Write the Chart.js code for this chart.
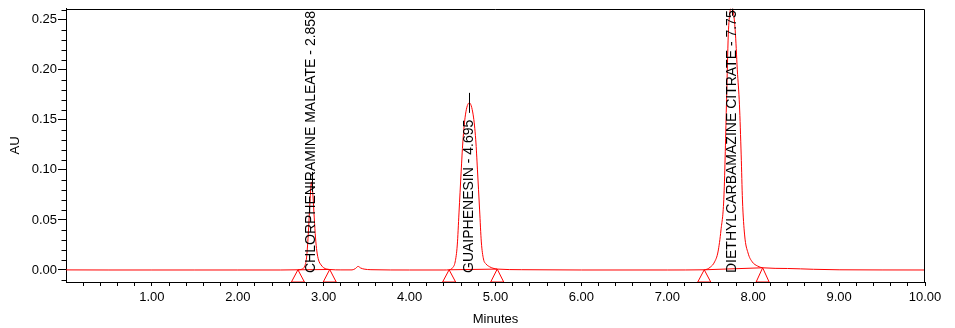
<!DOCTYPE html>
<html>
<head>
<meta charset="utf-8">
<script src="https://cdn.jsdelivr.net/npm/chart.js@4.4.0/dist/chart.umd.min.js"></script>
<style>
  html, body { margin: 0; padding: 0; background: #fff; }
  #wrap { width: 955px; height: 328px; }
</style>
</head>
<body>
<div id="wrap"><canvas id="chromChart" width="955" height="328"></canvas></div>
<script>
// detector trace: retention time (min) and absorbance (AU)
const traceTime = [
  0.00, 0.50, 1.00, 1.50, 2.00, 2.50, 2.70, 2.75, 2.78, 2.80,
  2.82, 2.84, 2.858, 2.875, 2.89, 2.905, 2.92, 2.94, 2.97, 3.00,
  3.07, 3.20, 3.33, 3.37, 3.40, 3.43, 3.47, 3.55, 4.00, 4.40,
  4.46, 4.50, 4.53, 4.555, 4.575, 4.60, 4.62, 4.65, 4.695, 4.74,
  4.77, 4.79, 4.815, 4.835, 4.86, 4.89, 4.93, 4.97, 5.02, 5.30,
  6.00, 7.00, 7.43, 7.50, 7.55, 7.59, 7.625, 7.66, 7.69, 7.71,
  7.73, 7.75, 7.79, 7.815, 7.84, 7.86, 7.875, 7.90, 7.94, 7.99,
  8.05, 8.11, 8.40, 8.70, 9.00, 10.00
];
const traceAU = [
  0.0001, 0.0000, 0.0000, 0.0000, 0.0000, 0.0000, 0.0002, 0.0010, 0.004, 0.012,
  0.035, 0.068, 0.088, 0.074, 0.052, 0.032, 0.019, 0.010, 0.005, 0.0022,
  0.0005, 0.0001, 0.0001, 0.0015, 0.0036, 0.0020, 0.0009, 0.0003, 0.0000, 0.0000,
  0.0002, 0.0022, 0.008, 0.025, 0.057, 0.098, 0.128, 0.155, 0.167, 0.155,
  0.130, 0.100, 0.060, 0.028, 0.011, 0.006, 0.0033, 0.0018, 0.0009, 0.0003,
  0.0000, 0.0000, 0.0002, 0.0028, 0.008, 0.018, 0.040, 0.075, 0.170, 0.235,
  0.258, 0.264, 0.240, 0.200, 0.165, 0.115, 0.070, 0.035, 0.017, 0.008,
  0.004, 0.0022, 0.0015, 0.0007, 0.0002, 0.0000
];

// integrated peaks
const peakNames = ['CHLORPHENIRAMINE MALEATE', 'GUAIPHENESIN', 'DIETHYLCARBAMAZINE CITRATE'];
const peakTimes = [2.858, 4.695, 7.75];
const peakApex = [0.088, 0.167, 0.264];
const peakStart = [2.70, 4.46, 7.43];
const peakStartAU = [0.0002, 0.0002, 0.0002];
const peakEnd = [3.07, 5.02, 8.11];
const peakEndAU = [0.0005, 0.0009, 0.0022];

// axis labels
const xTicks = [1, 2, 3, 4, 5, 6, 7, 8, 9, 10];
const yTicks = [0, 0.05, 0.10, 0.15, 0.20, 0.25];

const RED = '#ff0000';
const FONT = "'Liberation Sans', Arial, sans-serif";

const traceData = traceTime.map((t, i) => ({ x: t, y: traceAU[i] }));

// drop lines between peak start and end markers
const baselineSets = peakStart.map((s, i) => ({
  data: [{ x: s, y: peakStartAU[i] }, { x: peakEnd[i], y: peakEndAU[i] }],
  borderColor: RED,
  borderWidth: 1,
  pointRadius: 0,
  tension: 0,
}));

// triangles, apex ticks, vertical peak names, frame and minor ticks
const chromDecor = {
  id: 'chromDecor',
  afterDatasetsDraw(chart) {
    const { ctx, chartArea: a, scales: { x, y } } = chart;
    ctx.save();
    ctx.beginPath();
    ctx.rect(a.left, a.top, a.right - a.left, a.bottom - a.top);
    ctx.clip();

    ctx.strokeStyle = RED;
    ctx.lineWidth = 1;
    const marks = peakStart.map((t, i) => [t, peakStartAU[i]])
      .concat(peakEnd.map((t, i) => [t, peakEndAU[i]]));
    marks.forEach(([t, v]) => {
      const px = x.getPixelForValue(t);
      const py = y.getPixelForValue(v);
      ctx.beginPath();
      ctx.moveTo(px, py);
      ctx.lineTo(px - 6.5, a.bottom);
      ctx.lineTo(px + 6.5, a.bottom);
      ctx.closePath();
      ctx.stroke();
    });

    ctx.strokeStyle = '#000';
    peakTimes.forEach((t, i) => {
      const px = Math.round(x.getPixelForValue(t)) + 0.5;
      const py = y.getPixelForValue(peakApex[i]);
      ctx.beginPath();
      ctx.moveTo(px, py - 10);
      ctx.lineTo(px, py + 10);
      ctx.stroke();
    });

    ctx.fillStyle = '#000';
    ctx.font = '14px ' + FONT;
    ctx.textAlign = 'left';
    ctx.textBaseline = 'middle';
    peakTimes.forEach((t, i) => {
      ctx.save();
      ctx.translate(x.getPixelForValue(t), y.getPixelForValue(0) + 3);
      ctx.rotate(-Math.PI / 2);
      ctx.fillText(peakNames[i] + ' - ' + t, 0, 0);
      ctx.restore();
    });
    ctx.restore();

    // top and right edges of the plot box
    ctx.save();
    ctx.strokeStyle = '#000';
    ctx.lineWidth = 1;
    const top = Math.round(a.top) + 0.5;
    const right = Math.round(a.right) - 0.5;
    ctx.beginPath();
    ctx.moveTo(a.left, top);
    ctx.lineTo(right, top);
    ctx.lineTo(right, a.bottom);
    ctx.stroke();

    // minor ticks on the AU axis every 0.01
    const left = Math.round(a.left) + 0.5;
    for (let k = -1; k <= 26; k++) {
      if (k % 5 === 0) continue;
      const py = Math.round(y.getPixelForValue(k / 100)) + 0.5;
      if (py < a.top || py > a.bottom) continue;
      ctx.beginPath();
      ctx.moveTo(left - 5, py);
      ctx.lineTo(left, py);
      ctx.stroke();
    }
    ctx.restore();
  }
};

new Chart(document.getElementById('chromChart'), {
  type: 'line',
  data: {
    datasets: [{
      data: traceData,
      borderColor: RED,
      borderWidth: 1,
      pointRadius: 0,
      cubicInterpolationMode: 'monotone',
    }].concat(baselineSets),
  },
  options: {
    responsive: false,
    animation: false,
    devicePixelRatio: 1,
    layout: { padding: { top: 8, right: 30, left: 0, bottom: 0 } },
    plugins: {
      legend: { display: false },
      tooltip: { enabled: false },
    },
    scales: {
      x: {
        type: 'linear',
        min: 0,
        max: 10,
        afterFit: s => { s.height = 46; },
        afterBuildTicks: s => {
          const ticks = [];
          for (let i = 1; i <= 50; i++) ticks.push({ value: i / 5 });
          s.ticks = ticks;
        },
        grid: { drawOnChartArea: false, tickLength: 4, tickColor: '#000', color: '#000' },
        border: { color: '#000', width: 1 },
        ticks: {
          color: '#000',
          font: { family: FONT, size: 13 },
          padding: 4,
          maxRotation: 0,
          autoSkip: false,
          callback: v => {
            const r = Math.round(v);
            return Math.abs(v - r) < 1e-6 && xTicks.includes(r) ? r.toFixed(2) : '';
          },
        },
        title: {
          display: true,
          text: 'Minutes',
          color: '#000',
          font: { family: FONT, size: 13 },
          padding: { top: 0, bottom: 1 },
        },
      },
      y: {
        min: -0.012,
        max: 0.261,
        afterFit: s => { s.width = 66; },
        afterBuildTicks: s => { s.ticks = yTicks.map(v => ({ value: v })); },
        grid: { drawOnChartArea: false, tickLength: 8, tickColor: '#000', color: '#000' },
        border: { color: '#000', width: 1 },
        ticks: {
          color: '#000',
          font: { family: FONT, size: 13 },
          padding: 1,
          callback: v => v.toFixed(2),
        },
        title: {
          display: true,
          text: 'AU',
          color: '#000',
          font: { family: FONT, size: 13 },
          padding: { top: 8, bottom: 0 },
        },
      },
    },
  },
  plugins: [chromDecor],
});
</script>
</body>
</html>
